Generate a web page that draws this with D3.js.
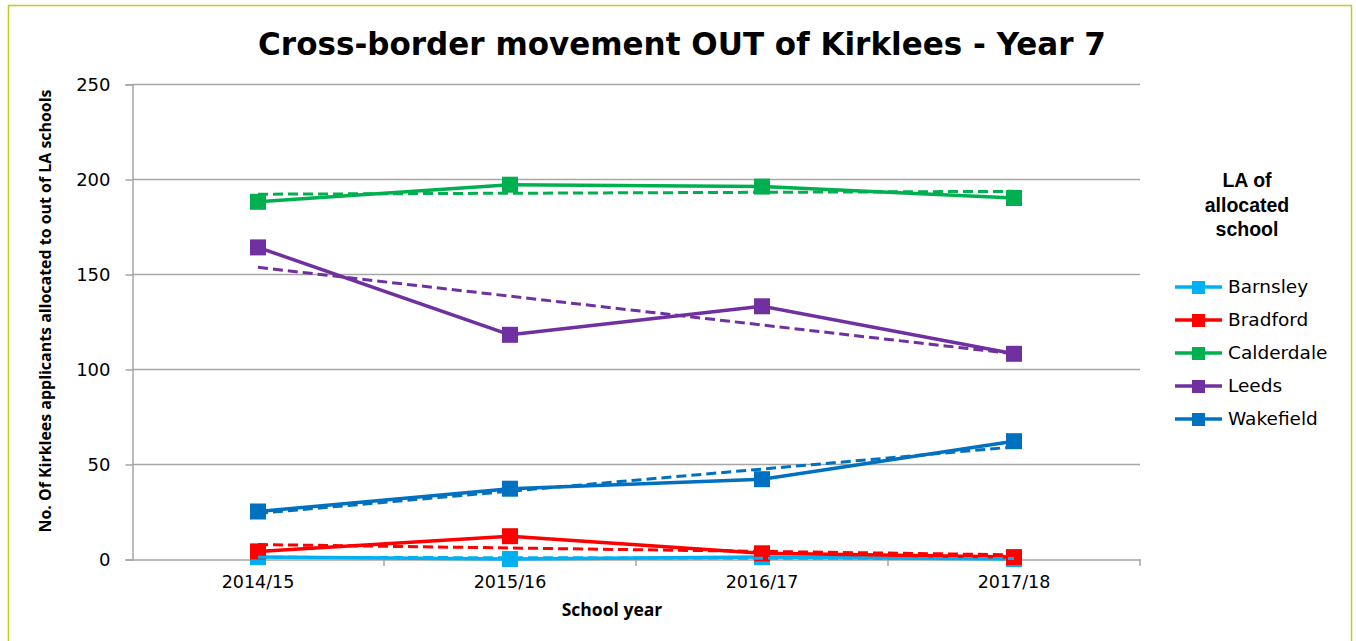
<!DOCTYPE html>
<html><head><meta charset="utf-8">
<script src="https://cdn.jsdelivr.net/npm/d3@7"></script>
<style>body{margin:0;background:#fff}svg{display:block}</style>
</head><body>
<svg id="c" width="1356" height="641"></svg>
<script>
const years = ["2014/15","2015/16","2016/17","2017/18"];
const seriesNames = ["Barnsley","Bradford","Calderdale","Leeds","Wakefield"];
const barnsley   = [1, 0, 1, 0];
const bradford   = [4, 12, 3, 1];
const calderdale = [188, 197, 196, 190];
const leeds      = [164, 118, 133, 108];
const wakefield  = [25, 37, 42, 62];
// linear trendline ends (first year, last year)
const trendStart = [0.9, 7.6, 192, 153.5, 24];
const trendEnd   = [0.2, 2.2, 193.5, 108, 59];
const yTicks = [0, 50, 100, 150, 200, 250];
const colors = ["#00b0f0","#ff0000","#00b050","#7030a0","#0070c0"];

const values = [barnsley, bradford, calderdale, leeds, wakefield];
const svg = d3.select("#c");
const font = "'DejaVu Sans', Verdana, sans-serif";
const bold = "'Open Sans', 'Liberation Sans', Arial, sans-serif";

// outer border
svg.append("rect").attr("x",8.5).attr("y",5.5).attr("width",1343).attr("height",650)
  .attr("fill","none").attr("stroke","#c8c820").attr("stroke-width",1.5);

const x = d3.scaleBand().domain(years).range([132,1140]);
const xc = d => x(d) + x.bandwidth()/2;
const y = d3.scaleLinear().domain([0,250]).range([559,84]);

// gridlines
svg.append("g").selectAll("line").data(yTicks.filter(t=>t>0)).join("line")
  .attr("x1",132).attr("x2",1140).attr("y1",d=>y(d)+0.5).attr("y2",d=>y(d)+0.5)
  .attr("stroke","#a6a6a6").attr("stroke-width",1.5);

// y axis
const ya = svg.append("g").attr("transform","translate(132.5,0.5)")
  .call(d3.axisLeft(y).tickValues(yTicks).tickSize(7).tickPadding(15));
ya.select(".domain").attr("stroke","#a6a6a6").attr("stroke-width",1.5);
ya.selectAll(".tick line").attr("stroke","#a6a6a6").attr("stroke-width",1.5);
ya.selectAll(".tick text").attr("font-family",font).attr("font-size",18).attr("fill","#000");

// x axis
const xa = svg.append("g").attr("transform","translate(0,559.5)")
  .call(d3.axisBottom(x).tickSize(0).tickPadding(16));
xa.select(".domain").attr("stroke","#a6a6a6").attr("stroke-width",1.5);
xa.selectAll(".tick text").attr("font-family",font).attr("font-size",17.5).attr("fill","#000");
svg.append("g").selectAll("line").data(years.slice(1).concat(["end"])).join("line")
  .attr("x1",d=>d==="end"?1140:x(d)).attr("x2",d=>d==="end"?1140:x(d))
  .attr("y1",559).attr("y2",566).attr("stroke","#a6a6a6").attr("stroke-width",1.5);

// series lines
const line = d3.line().x((d,i)=>xc(years[i])).y(d=>y(d));
values.forEach((vals,si)=>{
  const g = svg.append("g");
  g.append("path").attr("d",line(vals)).attr("fill","none")
    .attr("stroke",colors[si]).attr("stroke-width",3.5).attr("stroke-linejoin","round");
  g.selectAll("rect").data(vals).join("rect")
    .attr("x",(d,i)=>xc(years[i])-8).attr("y",d=>y(d)-8)
    .attr("width",16).attr("height",16).attr("fill",colors[si]);
});
// trendlines
values.forEach((vals,si)=>{
  svg.append("line")
    .attr("x1",xc(years[0])).attr("y1",y(trendStart[si]))
    .attr("x2",xc(years[years.length-1])).attr("y2",y(trendEnd[si]))
    .attr("stroke",colors[si]).attr("stroke-width",3).attr("stroke-dasharray","10,5");
});

// title
const title = svg.append("text").attr("x",682).attr("y",55).attr("text-anchor","middle")
  .attr("font-family",font).attr("font-weight","bold").attr("font-size",30).attr("fill","#000")
  .text("Cross-border movement OUT of Kirklees - Year 7");
const tw = title.node().getComputedTextLength();
title.attr("font-size", 30*848/tw);

// axis titles
svg.append("text").attr("transform","translate(51,311) rotate(-90)").attr("text-anchor","middle")
  .attr("font-family",bold).attr("font-weight","bold").attr("font-size",16)
  .attr("textLength",443).attr("lengthAdjust","spacingAndGlyphs")
  .text("No. Of Kirklees applicants allocated to out of LA schools");
svg.append("text").attr("x",612).attr("y",616).attr("text-anchor","middle")
  .attr("font-family",bold).attr("font-weight","bold").attr("font-size",17.5)
  .text("School year");

// legend title (three separate lines)
["LA of","allocated","school"].forEach((t,i)=>{
  svg.append("text").attr("text-anchor","middle")
    .attr("font-family","'Liberation Sans', Arial, sans-serif")
    .attr("font-weight","bold").attr("font-size",19.5)
    .attr("x",1247).attr("y",187+i*24.5).text(t);
});
const leg = svg.append("g").selectAll("g").data(seriesNames).join("g")
  .attr("transform",(d,i)=>`translate(0,${287+i*33})`);
leg.append("line").attr("x1",1175).attr("x2",1222).attr("y1",0).attr("y2",0)
  .attr("stroke",(d,i)=>colors[i]).attr("stroke-width",3.5);
leg.append("rect").attr("x",1192).attr("y",-6).attr("width",13).attr("height",13)
  .attr("fill",(d,i)=>colors[i]);
leg.append("text").attr("x",1228).attr("y",6).attr("font-family",font).attr("font-size",18.5)
  .attr("fill","#000").text(d=>d);
</script>
</body></html>
